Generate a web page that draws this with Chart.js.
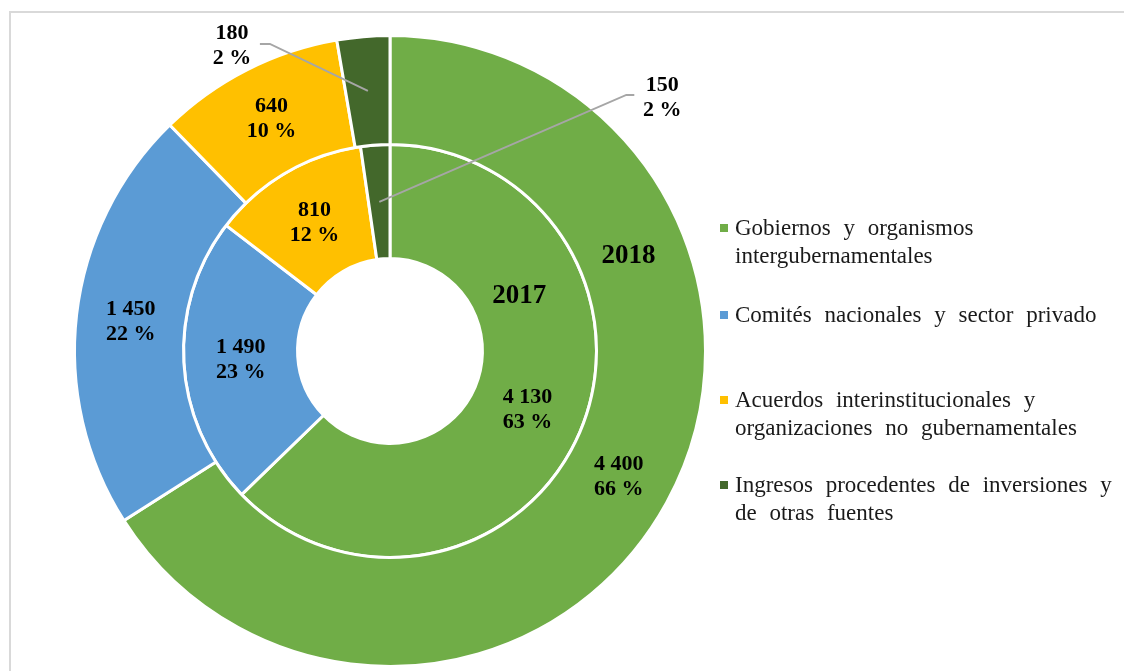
<!DOCTYPE html>
<html lang="es">
<head>
    <meta charset="UTF-8">
    <title>Ingresos 2017 y 2018</title>
    <script src="https://cdn.jsdelivr.net/npm/chart.js"></script>
    <style>
        html, body { margin: 0; padding: 0; background: #fff; }
        #wrap { position: relative; width: 1124px; height: 671px; overflow: hidden; }
        #frame { position: absolute; left: 9px; top: 11px; right: -10px; bottom: -10px;
                 border-top: 2px solid #d9d9d9; border-left: 2px solid #d9d9d9; }
        #chart { position: absolute; left: 0; top: 0; }
        #legend { position: absolute; left: 720px; top: 0; font-family: "Liberation Serif", "Times New Roman", serif;
                  font-size: 23px; line-height: 28px; color: #1a1a1a; word-spacing: 7px; }
        .item { position: absolute; left: 0; white-space: nowrap; }
        .box { position: absolute; left: 0; width: 8px; height: 8px; top: 10px; }
        .txt { position: absolute; left: 15px; top: 0; }
    </style>
</head>
<body>
<div id="wrap">
    <div id="frame"></div>
    <canvas id="chart" width="1124" height="671"></canvas>
    <div id="legend"></div>
</div>

<script>
    // categories (legend text, one entry per line)
    const categories = [
        ['Gobiernos y organismos', 'intergubernamentales'],
        ['Comités nacionales y sector privado'],
        ['Acuerdos interinstitucionales y', 'organizaciones no gubernamentales'],
        ['Ingresos procedentes de inversiones y', 'de otras fuentes']
    ];
    const colors = ['#70ad47', '#5b9bd5', '#ffc000', '#43682b'];

    // values
    const years = ['2018', '2017'];
    const values2018 = [4400, 1450, 640, 180];
    const values2017 = [4130, 1490, 810, 150];
    const pct2018 = [66, 22, 10, 2];
    const pct2017 = [63, 23, 12, 2];

    const fmt = v => String(v).replace(/\B(?=(\d{3})+(?!\d))/g, ' ');

    // labels inside the arcs, callouts for the small slices, year titles
    const labelPlugin = {
        id: 'ringLabels',
        afterDatasetsDraw(chart) {
            const ctx = chart.ctx;
            const pcts = [pct2018, pct2017];
            // callout offsets from the slice centre (dx, dy) and leader elbow
            const callouts = {
                '0-3': { dx: -136, dy: -46, elbow: -98, tail: -108, ly: -47 },
                '1-3': { dx: 283, dy: -105, elbow: 247, tail: 255, ly: -107 }
            };
            ctx.save();
            ctx.fillStyle = '#000';
            ctx.textAlign = 'center';
            ctx.textBaseline = 'middle';
            chart.data.datasets.forEach((ds, di) => {
                const meta = chart.getDatasetMeta(di);
                meta.data.forEach((arc, i) => {
                    const p = arc.getCenterPoint();
                    const lines = [fmt(ds.data[i]), pcts[di][i] + ' %'];
                    let x = p.x, y = p.y;
                    const c = callouts[di + '-' + i];
                    if (c) {
                        ctx.strokeStyle = '#a6a6a6';
                        ctx.lineWidth = 2;
                        ctx.beginPath();
                        ctx.moveTo(p.x, p.y);
                        ctx.lineTo(p.x + c.elbow, p.y + c.ly);
                        ctx.lineTo(p.x + c.tail, p.y + c.ly);
                        ctx.stroke();
                        x = p.x + c.dx;
                        y = p.y + c.dy;
                    }
                    ctx.font = 'bold 22px "Liberation Serif", "Times New Roman", serif';
                    ctx.fillText(lines[0], x, y - 12);
                    ctx.fillText(lines[1], x, y + 13);
                });
                // year title in the ring
                const first = meta.data[0];
                const cx = first.x, cy = first.y;
                const r = (first.innerRadius + first.outerRadius) / 2 - (di === 1 ? 9 : 2);
                const a = -23 * Math.PI / 180;
                ctx.font = 'bold 27px "Liberation Serif", "Times New Roman", serif';
                ctx.fillText(years[di], cx + r * Math.cos(a), cy + r * Math.sin(a) + (di === 0 ? 6 : 0));
            });
            ctx.restore();
        }
    };

    new Chart(document.getElementById('chart'), {
        type: 'doughnut',
        data: {
            labels: categories.map(c => c.join(' ')),
            datasets: [
                { label: years[0], data: values2018, backgroundColor: colors, borderColor: '#fff', borderWidth: 3, weight: 108 },
                { label: years[1], data: values2017, backgroundColor: colors, borderColor: '#fff', borderWidth: 3, weight: 113 }
            ]
        },
        options: {
            responsive: false,
            animation: false,
            devicePixelRatio: 1,
            cutout: '29.3%',
            layout: { padding: { left: 73, top: 34, right: 417, bottom: 3 } },
            plugins: {
                legend: { display: false },
                tooltip: { enabled: false }
            }
        },
        plugins: [labelPlugin]
    });

    // legend on the right
    const legendTops = [214, 301, 386, 471];
    const legend = document.getElementById('legend');
    categories.forEach((lines, i) => {
        const item = document.createElement('div');
        item.className = 'item';
        item.style.top = legendTops[i] + 'px';
        const box = document.createElement('div');
        box.className = 'box';
        box.style.background = colors[i];
        const txt = document.createElement('div');
        txt.className = 'txt';
        txt.innerHTML = lines.join('<br>');
        item.appendChild(box);
        item.appendChild(txt);
        legend.appendChild(item);
    });
</script>
</body>
</html>
